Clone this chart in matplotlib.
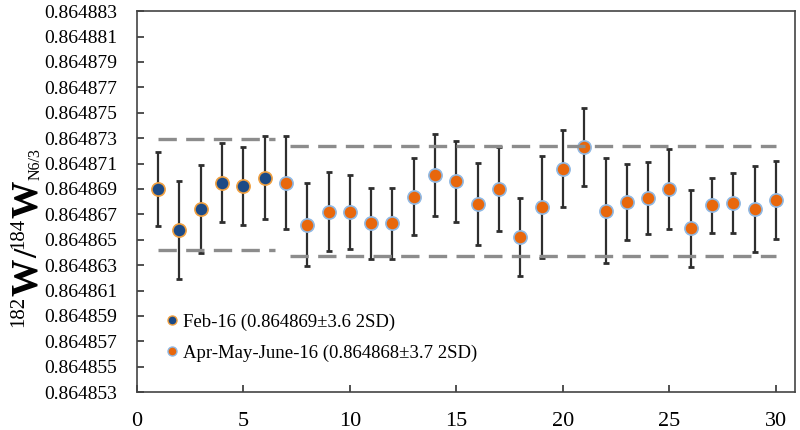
import matplotlib
matplotlib.use('Agg')
import matplotlib.pyplot as plt
from matplotlib.ticker import FixedLocator

plt.rcParams['font.family'] = ['Liberation Serif', 'DejaVu Serif']

# Feb-16 run (measurements 1-6)
feb_x = [1, 2, 3, 4, 5, 6]
feb_y = [0.8648690, 0.8648658, 0.8648674, 0.8648695, 0.8648692, 0.8648699]
feb_err = [2.9e-6, 3.85e-6, 3.45e-6, 3.1e-6, 3.07e-6, 3.24e-6]

# Apr-May-June-16 run (measurements 7-30)
amj_x = list(range(7, 31))
amj_y = [0.8648695, 0.8648662, 0.8648672, 0.8648672, 0.8648663, 0.8648663,
         0.8648684, 0.8648701, 0.8648696, 0.8648678, 0.8648690, 0.8648652,
         0.8648676, 0.8648706, 0.8648723, 0.8648673, 0.8648680, 0.8648683,
         0.8648690, 0.8648659, 0.8648677, 0.8648679, 0.8648674, 0.8648681]
amj_err = [3.65e-6, 3.27e-6, 3.1e-6, 2.9e-6, 2.8e-6, 2.8e-6,
           3.0e-6, 3.2e-6, 3.2e-6, 3.25e-6, 3.3e-6, 3.05e-6,
           4.0e-6, 3.05e-6, 3.1e-6, 4.1e-6, 3.0e-6, 2.85e-6,
           3.15e-6, 3.05e-6, 2.15e-6, 2.35e-6, 3.4e-6, 3.07e-6]

# 2SD envelopes of each run
feb_band_x = [1, 6.5]
feb_band = [0.8648729, 0.8648642]
amj_band_x = [7.2, 30]
amj_band = [0.8648724, 0.8648637]

yticks = [0.864853 + 2e-6 * i for i in range(16)]
xticks = [0, 5, 10, 15, 20, 25, 30]

W, H = 800, 430
fig = plt.figure(figsize=(W / 100, H / 100), dpi=100)
ax = fig.add_axes([0.171, 0.088, 0.823, 0.886])

navy = '#1c4a86'
orange = '#e8670c'
lightblue = '#8fb8e3'
errc = '#2e2e2e'

ax.errorbar(feb_x, feb_y, yerr=feb_err, fmt='none', ecolor=errc,
            elinewidth=1.6, capsize=2.5, capthick=2, zorder=2)
ax.errorbar(amj_x, amj_y, yerr=amj_err, fmt='none', ecolor=errc,
            elinewidth=1.6, capsize=2.5, capthick=2, zorder=2)

ax.plot(feb_x, feb_y, 'o', ms=9.5, mfc=navy, mec='#f0a040', mew=1.2,
        ls='none', zorder=3)
ax.plot(amj_x, amj_y, 'o', ms=9.5, mfc=orange, mec=lightblue, mew=1.2,
        ls='none', zorder=3)

for yv in feb_band:
    ax.plot(feb_band_x, [yv, yv], color='#8c8c8c', lw=2.4,
            dashes=(5.5, 2.8), zorder=4)
for yv in amj_band:
    ax.plot(amj_band_x, [yv, yv], color='#8c8c8c', lw=2.4,
            dashes=(5.5, 2.8), zorder=4)

# legend handles (markers only)
h1, = ax.plot([], [], 'o', ms=6.5, mfc=navy, mec='#f0a040', mew=1)
h2, = ax.plot([], [], 'o', ms=6.5, mfc=orange, mec=lightblue, mew=1)
ax.legend([h1, h2], ['Feb-16 (0.864869\u00b13.6 2SD)',
                     'Apr-May-June-16 (0.864868\u00b13.7 2SD)'],
          loc='lower left', bbox_to_anchor=(0.016, 0.03), frameon=False,
          fontsize=13.5, handlelength=0.6, handletextpad=0.3,
          labelspacing=0.75, borderaxespad=0.6)

ax.set_xlim(0, 30.9)
ax.set_ylim(0.864853, 0.864883)
ax.yaxis.set_major_locator(FixedLocator(yticks))
ax.set_yticklabels(['%.6f' % v for v in yticks], fontsize=14)
ax.set_xticks(xticks)
ax.set_xticklabels([str(v) for v in xticks], fontsize=16)
ax.tick_params(axis='both', direction='in', length=5, width=1.2, color='#333333')
ax.tick_params(axis='x', pad=14)
ax.tick_params(axis='y', pad=14)
for s in ax.spines.values():
    s.set_color('#444444')
    s.set_linewidth(1.2)

# y label 182W/184W(N6/3), built piece by piece, reading bottom to top
renderer = fig.canvas.get_renderer()
pieces = [('182', 15, 'normal', -14),
          ('W', 27, 'bold', 0),
          ('/', 24, 'bold', 0),
          ('184', 15, 'normal', -14),
          ('W', 27, 'bold', 0),
          ('N6/3', 11.5, 'normal', 3)]
base_x = 37   # baseline position in pixels from the left
y_pos = 327   # start position in pixels from the top
for txt, size, weight, shift in pieces:
    t = fig.text((base_x + shift) / W, 1 - y_pos / H, txt, fontsize=size,
                 fontweight=weight, family='Liberation Serif', rotation=90,
                 rotation_mode='anchor', ha='left', va='baseline')
    y_pos -= t.get_window_extent(renderer).height

fig.savefig('out.png', dpi=100)
